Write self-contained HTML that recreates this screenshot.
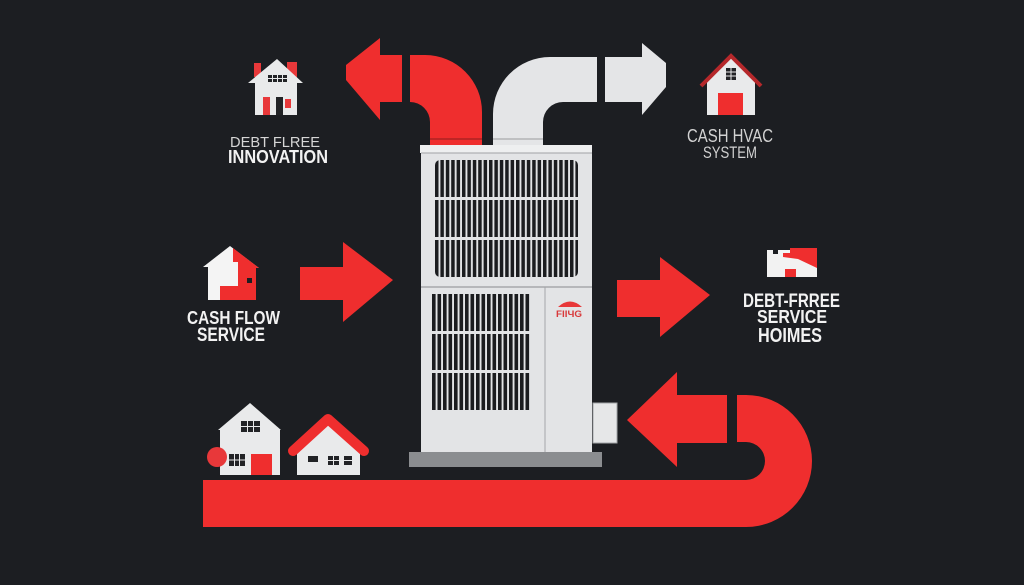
<!DOCTYPE html>
<html><head><meta charset="utf-8"><style>
html,body{margin:0;padding:0;background:#1c1e22;}
svg{display:block}
</style></head><body>
<svg width="1024" height="585" viewBox="0 0 1024 585" xmlns="http://www.w3.org/2000/svg">
<defs>
<pattern id="slU" patternUnits="userSpaceOnUse" x="435" y="0" width="5.4" height="10">
<rect x="0" y="0" width="5.4" height="10" fill="#e3e4e6"/>
<rect x="0" y="0" width="3.5" height="10" fill="#1b1c1f"/>
</pattern>
<pattern id="slL" patternUnits="userSpaceOnUse" x="432" y="0" width="5.5" height="10">
<rect x="0" y="0" width="5.5" height="10" fill="#e3e4e6"/>
<rect x="0" y="0" width="3.6" height="10" fill="#1b1c1f"/>
</pattern>
</defs>
<rect width="1024" height="585" fill="#1c1e22"/>

<!-- top ducts -->
<path d="M410,55 L425,55 A57,57 0 0 1 482,112 L482,145 L430,145 L430,122 A20,20 0 0 0 410,102 Z" fill="#ef2e2e"/>
<line x1="430" y1="139" x2="482" y2="139" stroke="#8e1c1c" stroke-width="1"/>
<path d="M597,57 L550,57 A57,57 0 0 0 493,114 L493,145 L543,145 L543,122 A20,20 0 0 1 563,102 L597,102 Z" fill="#e4e5e7"/>
<line x1="493" y1="139" x2="543" y2="139" stroke="#9a9b9e" stroke-width="1"/>
<!-- top arrows -->
<polygon points="402,55 380,55 380,38 346,65 346,80 380,120 380,102 402,102" fill="#ef2e2e"/>
<polygon points="605,57 642,57 642,43 666,63 666,87 642,115 642,102 605,102" fill="#e4e5e7"/>

<!-- unit -->
<rect x="420" y="145" width="172" height="8" fill="#eeeff0"/>
<rect x="421" y="153" width="171" height="299" fill="#e3e4e6"/>
<line x1="421" y1="153" x2="592" y2="153" stroke="#a0a2a5" stroke-width="1"/>
<rect x="435" y="160" width="143" height="117" rx="5" fill="url(#slU)"/>
<rect x="435" y="197" width="143" height="3" fill="#e3e4e6"/>
<rect x="435" y="237" width="143" height="3" fill="#e3e4e6"/>
<line x1="421" y1="287" x2="592" y2="287" stroke="#9a9c9f" stroke-width="1.2"/>
<rect x="432" y="294" width="99" height="116" fill="url(#slL)"/>
<rect x="432" y="331" width="99" height="3" fill="#e3e4e6"/>
<rect x="432" y="370" width="99" height="3" fill="#e3e4e6"/>
<line x1="545" y1="287" x2="545" y2="452" stroke="#a4a6a9" stroke-width="1"/>
<!-- logo -->
<path d="M558,307 Q570,296 582,307 Z" fill="#e8383a"/>
<text x="556" y="317" font-family="Liberation Sans, sans-serif" font-weight="bold" font-size="9" fill="#d8383a" textLength="26" lengthAdjust="spacingAndGlyphs">FIIЧG</text>
<!-- side box -->
<rect x="593" y="403" width="24" height="40" fill="#e6e7e8" stroke="#a3a5a8" stroke-width="1"/>
<!-- base -->
<rect x="409" y="452" width="193" height="15" fill="#8b8d90"/>

<!-- bottom red U-band -->
<path d="M203,480 H746 A19,19 0 0 0 746,442 H737 V395 H746 A66,66 0 0 1 746,527 H203 Z" fill="#ef2e2e"/>
<polygon points="727,395 677,395 677,372 627,420 677,467 677,443 727,443" fill="#ef2e2e"/>

<!-- mid arrows -->
<polygon points="300,267 343,267 343,242 393,280 343,322 343,300 300,300" fill="#ef2e2e"/>
<polygon points="617,280 660,280 660,257 710,295 660,337 660,317 617,317" fill="#ef2e2e"/>

<!-- DEBT FLREE house -->
<rect x="254" y="63" width="7" height="14" fill="#e8383a"/>
<rect x="287" y="62" width="10" height="16" fill="#e8383a"/>
<polygon points="248,83 277,59 303,83 297,83 297,115 255,115 255,83" fill="#e9eaeb"/>
<rect x="268" y="75" width="19" height="7" fill="#222326"/>
<line x1="272.5" y1="75" x2="272.5" y2="82" stroke="#e9eaeb" stroke-width="1"/>
<line x1="277.5" y1="75" x2="277.5" y2="82" stroke="#e9eaeb" stroke-width="1"/>
<line x1="282.5" y1="75" x2="282.5" y2="82" stroke="#e9eaeb" stroke-width="1"/>
<line x1="268" y1="78.5" x2="287" y2="78.5" stroke="#e9eaeb" stroke-width="1"/>
<rect x="263" y="97" width="7" height="18" fill="#e8383a"/>
<rect x="276" y="97" width="7" height="18" fill="#222326"/>
<rect x="285" y="99" width="6" height="9" fill="#e8383a"/>
<text x="230" y="147" font-family="Liberation Sans, sans-serif" font-size="15" fill="#d6d6d6" textLength="90" lengthAdjust="spacingAndGlyphs">DEBT FLREE</text>
<text x="228" y="163" font-family="Liberation Sans, sans-serif" font-weight="bold" font-size="18" fill="#f2f2f2" textLength="100" lengthAdjust="spacingAndGlyphs">INNOVATION</text>

<!-- CASH HVAC house -->
<polygon points="707,115 707,80 731,57 755,80 755,115" fill="#e9eaeb"/>
<polyline points="701,86 731,56 761,86" fill="none" stroke="#b5282b" stroke-width="4"/>
<rect x="718" y="93" width="25" height="22" fill="#ef2e2e"/>
<rect x="726" y="68" width="10" height="12" fill="#222326"/>
<line x1="731" y1="68" x2="731" y2="80" stroke="#e9eaeb" stroke-width="1"/>
<line x1="726" y1="72" x2="736" y2="72" stroke="#e9eaeb" stroke-width="1"/>
<line x1="726" y1="76" x2="736" y2="76" stroke="#e9eaeb" stroke-width="1"/>
<text x="687" y="142" font-family="Liberation Sans, sans-serif" font-size="18" fill="#d2d2d2" textLength="86" lengthAdjust="spacingAndGlyphs">CASH HVAC</text>
<text x="703" y="158" font-family="Liberation Sans, sans-serif" font-size="17" fill="#d2d2d2" textLength="54" lengthAdjust="spacingAndGlyphs">SYSTEM</text>

<!-- CASH FLOW house -->
<polygon points="203,267 230,246 259,268 256,268 256,300 208,300 208,267" fill="#f4f4f4"/>
<polygon points="233,248 259,268 256,268 256,300 220,300 220,286 238,286 238,262 233,262" fill="#ef2e2e"/>
<rect x="247" y="278" width="5" height="5" fill="#1c1e22"/>
<text x="187" y="324" font-family="Liberation Sans, sans-serif" font-weight="bold" font-size="18" fill="#f2f2f2" textLength="93" lengthAdjust="spacingAndGlyphs">CASH FLOW</text>
<text x="197" y="341" font-family="Liberation Sans, sans-serif" font-weight="bold" font-size="19" fill="#f2f2f2" textLength="68" lengthAdjust="spacingAndGlyphs">SERVICE</text>

<!-- DEBT-FREE icon -->
<rect x="767" y="250" width="50" height="27" fill="#f2f2f2"/>
<rect x="773" y="248" width="5" height="6" fill="#1c1e22"/>
<polygon points="790,248 817,248 817,268 798,259 783,257 783,253 790,253" fill="#ef2e2e"/>
<rect x="785" y="269" width="11" height="8" fill="#ef2e2e"/>
<text x="743" y="307" font-family="Liberation Sans, sans-serif" font-weight="bold" font-size="19" fill="#f2f2f2" textLength="97" lengthAdjust="spacingAndGlyphs">DEBT-FRREE</text>
<text x="757" y="323" font-family="Liberation Sans, sans-serif" font-weight="bold" font-size="18" fill="#f2f2f2" textLength="70" lengthAdjust="spacingAndGlyphs">SERVICE</text>
<text x="758" y="342" font-family="Liberation Sans, sans-serif" font-weight="bold" font-size="20" fill="#f2f2f2" textLength="64" lengthAdjust="spacingAndGlyphs">HOIMES</text>

<!-- bottom-left houses -->
<polygon points="218,430 250,403 281,430 280,430 280,475 220,475 220,430" fill="#e9eaeb"/>
<rect x="241" y="421" width="19" height="11" fill="#222326"/>
<line x1="247.5" y1="421" x2="247.5" y2="432" stroke="#e9eaeb" stroke-width="1"/>
<line x1="253.5" y1="421" x2="253.5" y2="432" stroke="#e9eaeb" stroke-width="1"/>
<line x1="241" y1="426.5" x2="260" y2="426.5" stroke="#e9eaeb" stroke-width="1"/>
<rect x="229" y="454" width="16" height="12" fill="#222326"/>
<line x1="234.5" y1="454" x2="234.5" y2="466" stroke="#e9eaeb" stroke-width="1"/>
<line x1="239.5" y1="454" x2="239.5" y2="466" stroke="#e9eaeb" stroke-width="1"/>
<line x1="229" y1="460" x2="245" y2="460" stroke="#e9eaeb" stroke-width="1"/>
<rect x="251" y="454" width="21" height="21" fill="#ef2e2e"/>
<circle cx="217" cy="457" r="10" fill="#e8383a"/>
<polygon points="297,475 297,452 328,424 360,452 360,475" fill="#e9eaeb"/>
<polyline points="293,451 328,419 364,451" fill="none" stroke="#ef2e2e" stroke-width="10" stroke-linecap="round" stroke-linejoin="round"/>
<rect x="308" y="456" width="10" height="6" fill="#222326"/>
<rect x="328" y="456" width="11" height="9" fill="#222326"/>
<line x1="333.5" y1="456" x2="333.5" y2="465" stroke="#e9eaeb" stroke-width="1"/>
<line x1="328" y1="460.5" x2="339" y2="460.5" stroke="#e9eaeb" stroke-width="1"/>
<rect x="344" y="456" width="8" height="9" fill="#222326"/>
<line x1="344" y1="460.5" x2="352" y2="460.5" stroke="#e9eaeb" stroke-width="1"/>
</svg>
</body></html>
